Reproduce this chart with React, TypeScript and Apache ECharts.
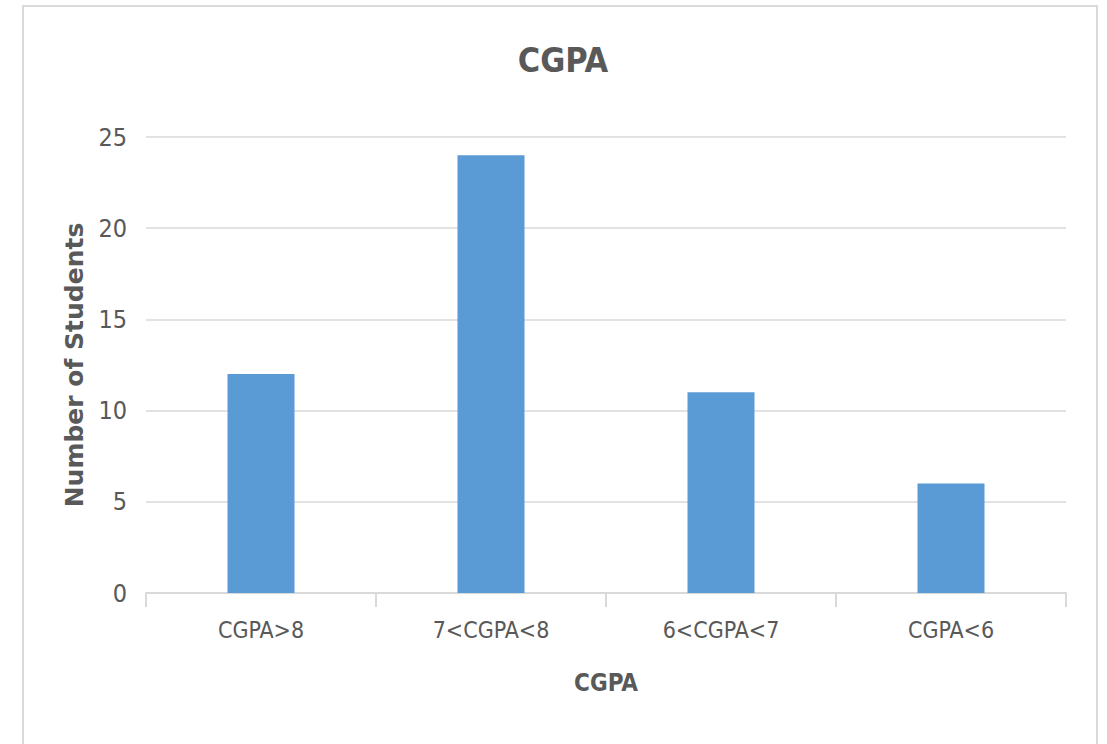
import React, { useEffect, useRef } from "react";
import * as echarts from "echarts";

const categories = ["CGPA>8", "7<CGPA<8", "6<CGPA<7", "CGPA<6"];
const students = [12, 24, 11, 6];
const yTicks = { min: 0, max: 25, interval: 5 };

const NARROW = "'Liberation Sans Narrow', 'DejaVu Sans Condensed', sans-serif";
const TEXT = "#595959";
const LINE = "#d9d9d9";

export default function App() {
  const ref = useRef<HTMLDivElement>(null);
  useEffect(() => {
    document.body.style.margin = "0";
    const chart = echarts.init(ref.current!, null, { renderer: "svg" });
    chart.setOption({
      animation: false,
      backgroundColor: "#ffffff",
      title: {
        text: "CGPA",
        left: 558,
        top: 38,
        textAlign: "center",
        textStyle: { fontFamily: NARROW, fontWeight: "bold", fontSize: 34, color: TEXT },
      },
      graphic: [
        {
          type: "rect",
          shape: { x: 23, y: 6, width: 1074, height: 780 },
          style: { fill: "none", stroke: LINE, lineWidth: 2 },
          silent: true,
        },
      ],
      grid: { left: 146, right: 41, top: 137, bottom: 151 },
      xAxis: {
        type: "category",
        data: categories,
        name: "CGPA",
        nameLocation: "middle",
        nameGap: 78,
        nameTextStyle: { fontFamily: NARROW, fontWeight: "bold", fontSize: 24, color: TEXT },
        axisLine: { lineStyle: { color: LINE, width: 2 } },
        axisTick: { show: true, length: 14, lineStyle: { color: LINE, width: 2 } },
        axisLabel: { fontFamily: NARROW, fontSize: 23, color: TEXT, margin: 25 },
      },
      yAxis: {
        type: "value",
        min: yTicks.min,
        max: yTicks.max,
        interval: yTicks.interval,
        name: "Number of Students",
        nameLocation: "middle",
        nameRotate: 90,
        nameGap: 58,
        nameTextStyle: { fontFamily: "'DejaVu Sans', sans-serif", fontWeight: "bold", fontSize: 25, color: TEXT },
        axisLine: { show: false },
        axisTick: { show: false },
        axisLabel: { fontFamily: NARROW, fontSize: 25, color: TEXT, margin: 19 },
        splitLine: { lineStyle: { color: LINE, width: 1.5 } },
      },
      series: [
        {
          type: "bar",
          data: students,
          barWidth: 67,
          itemStyle: { color: "#5b9bd5" },
        },
      ],
    });
    return () => chart.dispose();
  }, []);
  return <div ref={ref} style={{ width: 1107, height: 744 }} />;
}
